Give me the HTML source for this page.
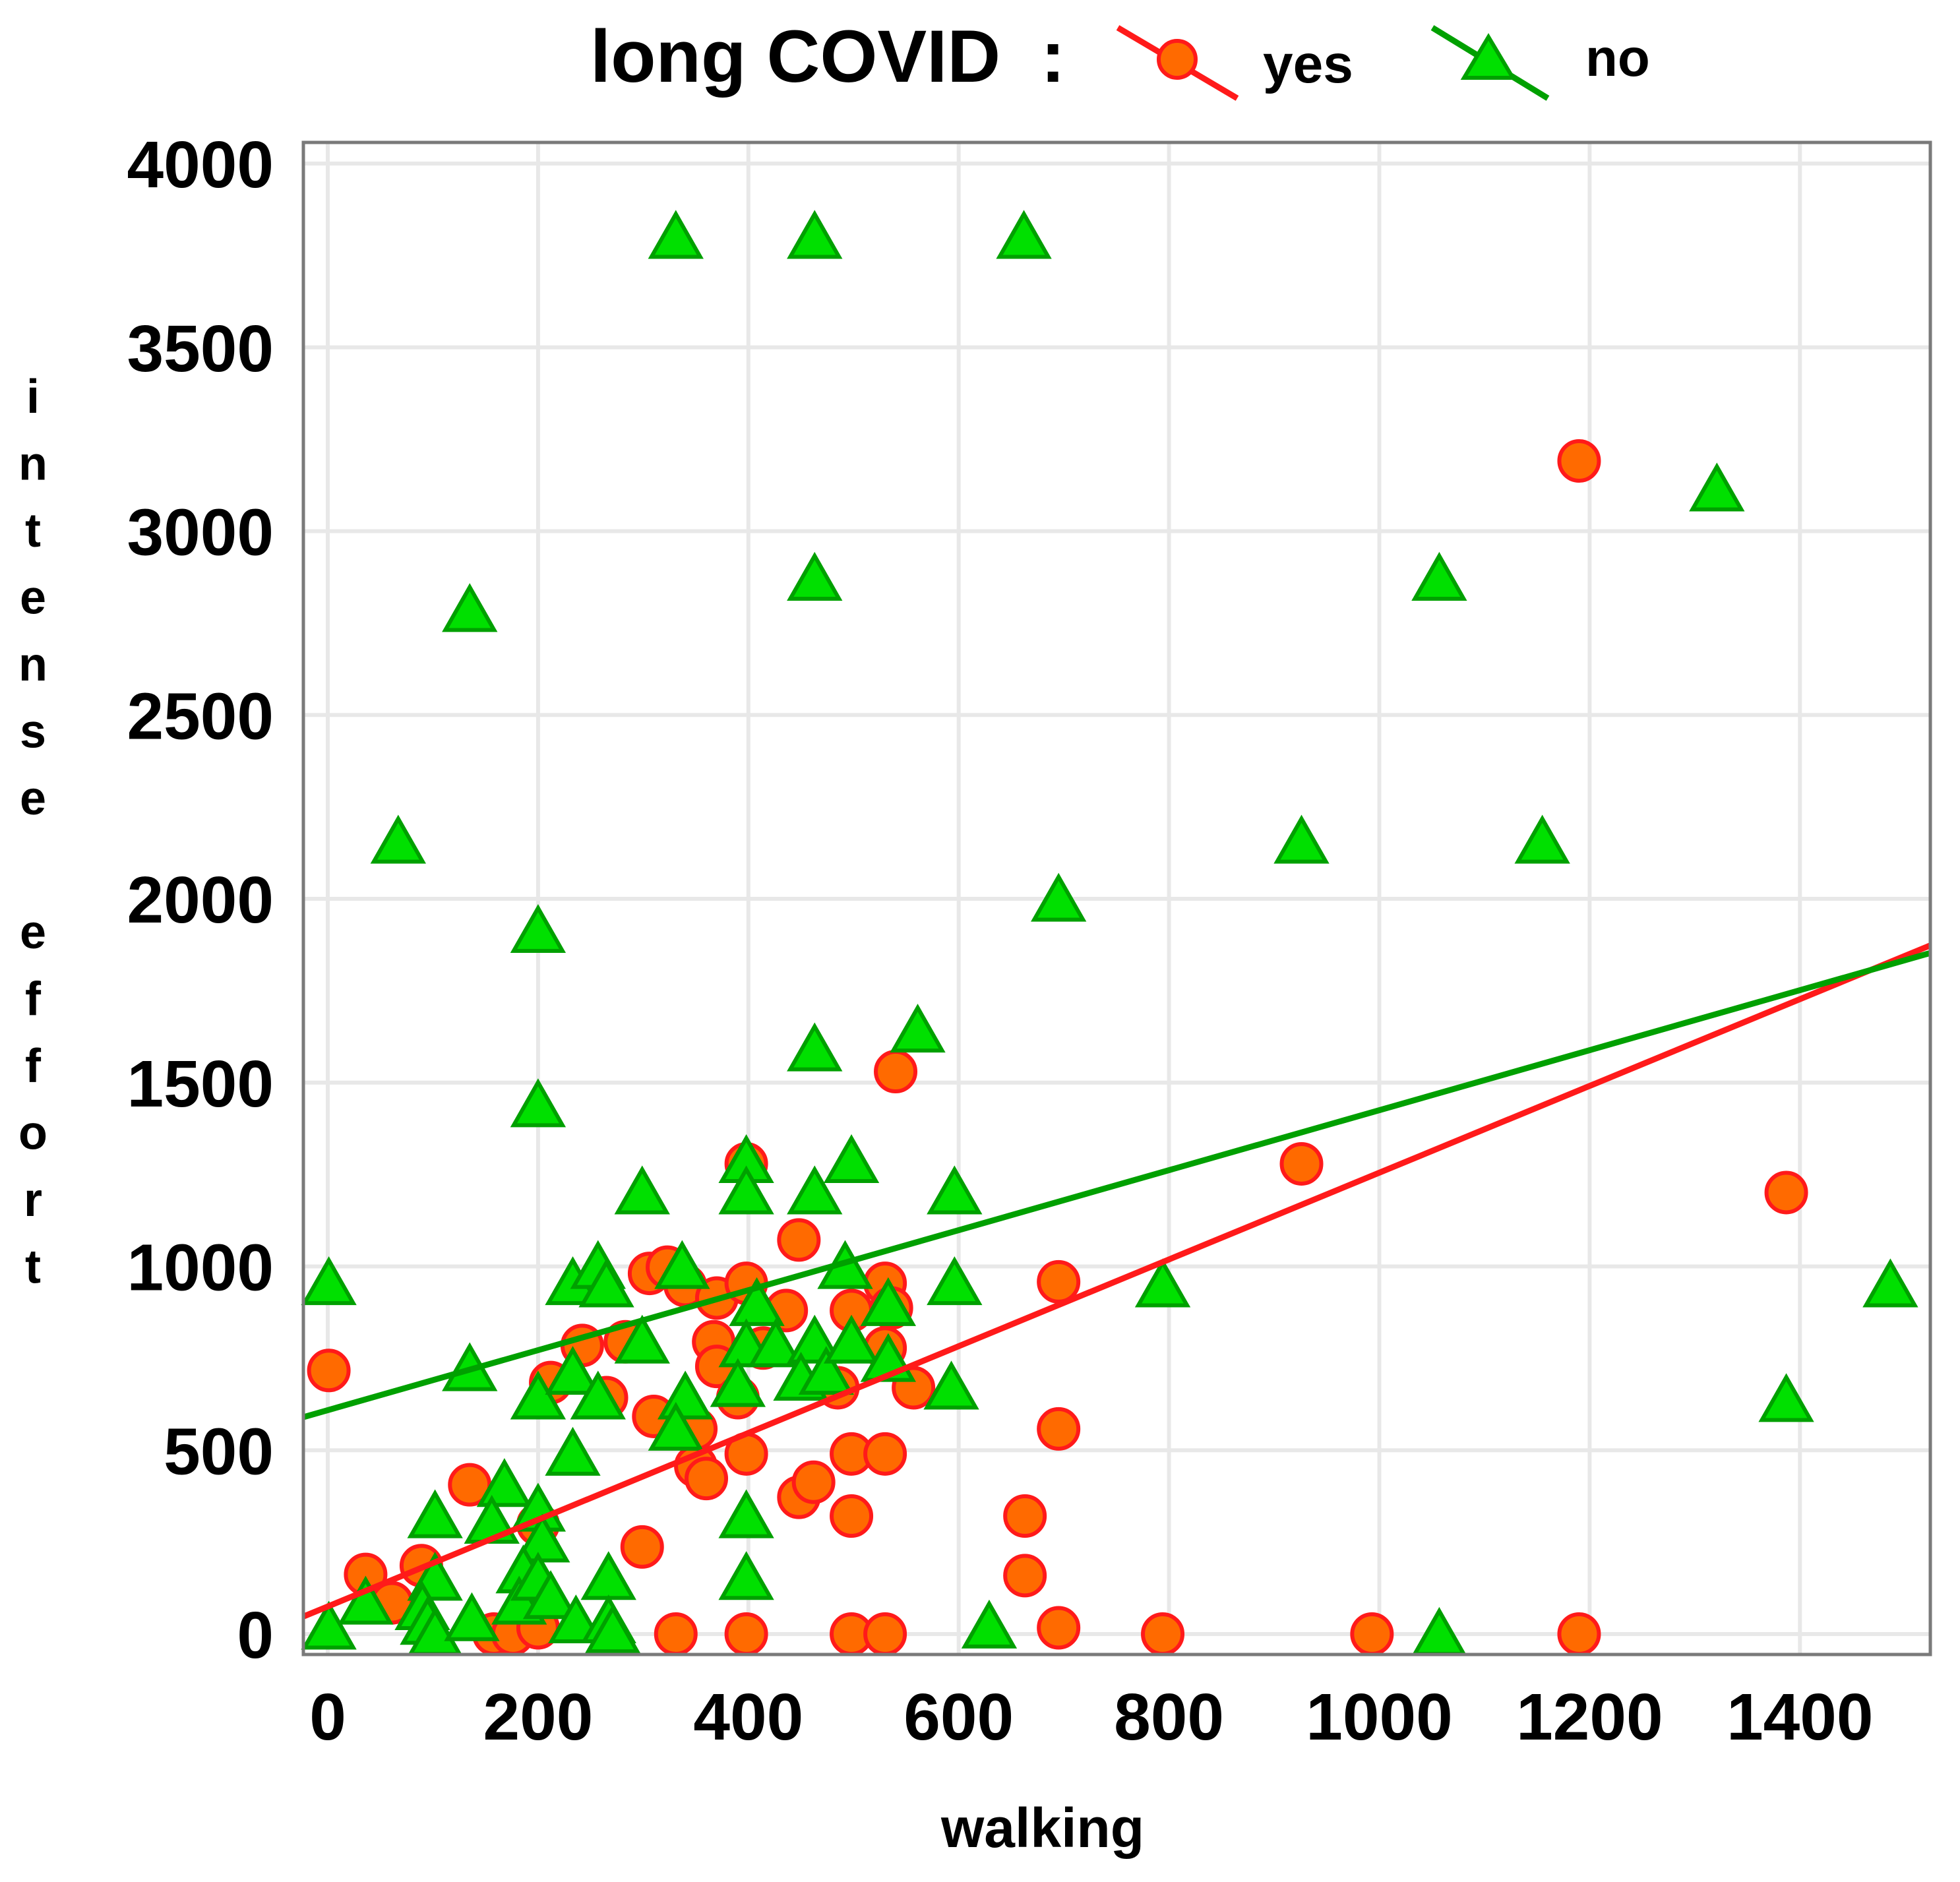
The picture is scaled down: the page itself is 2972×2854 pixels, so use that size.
<!DOCTYPE html>
<html><head><meta charset="utf-8"><style>html,body{margin:0;padding:0;background:#fff}svg{display:block}</style></head>
<body>
<svg id="chart" width="2972" height="2854" viewBox="0 0 2972 2854" xmlns="http://www.w3.org/2000/svg" font-family="'Liberation Sans', Arial, sans-serif" font-weight="bold">
<g id="grid"></g>
<g id="marks"></g>
<g id="axes"></g>
<g>
<text x="895" y="124" font-size="112">long COVID</text>
<text x="1578" y="124" font-size="112">:</text>
<g>
<line x1="1695" y1="42" x2="1876" y2="149" stroke="#ff1a1a" stroke-width="9"/>
<circle cx="1785" cy="90" r="28" fill="#ff6a00" stroke="#ff1a1a" stroke-width="6"/>
<text x="1915" y="125" font-size="82">yes</text>
</g>
<g>
<line x1="2172" y1="42" x2="2347" y2="149" stroke="#00a000" stroke-width="9"/>
<polygon points="2257,56 2294,118 2220,118" fill="#00e000" stroke="#00a000" stroke-width="6"/>
<text x="2404" y="115" font-size="80">no</text>
</g>
</g>
<text x="1581" y="2801" font-size="84" text-anchor="middle">walking</text>
<g id="ytitle" font-size="72" text-anchor="middle"></g>
</svg>
<script>
const xTicks = [0,200,400,600,800,1000,1200,1400];
const yTicks = [0,500,1000,1500,2000,2500,3000,3500,4000];
const yesX = [1190,926,1387,695,695,663,663,695,794,993,1190,540,398,448,1,36,61,89,135,158,176,200,200,299,331,398,498,530,498,498,530,448,462,398,350,360,350,310,306,323,340,370,367,370,398,390,436,414,485,498,530,536,530,557,242,212,265,283,200];
const yesY = [3191,1279,1201,958,558,321,159,17,0,0,0,1530,1279,1072,717,162,85,186,406,0,0,17,100,237,0,0,0,0,321,490,490,372,413,490,457,423,558,592,981,998,948,914,795,728,954,643,880,778,670,880,954,887,778,670,785,684,643,795,298];
const noX = [331,463,662,463,135,1321,1057,67,926,1155,695,200,200,463,561,1486,1387,794,629,1057,1,1,36,135,102,102,90,95,102,137,168,156,200,204,200,186,182,200,212,236,233,233,233,257,265,257,267,267,271,299,299,337,340,331,398,398,408,398,390,426,398,398,463,498,492,463,450,474,498,533,533,596,596,593];
const noY = [3800,3800,3800,2870,2785,3113,2870,2155,2155,2155,1997,1912,1438,1590,1641,948,636,948,20,0,954,17,85,720,320,150,70,30,0,40,405,305,338,254,643,170,85,150,100,34,490,710,954,998,948,643,152,34,7,1201,795,998,643,558,1286,1201,897,785,677,785,320,152,1201,1286,998,795,694,710,795,897,745,1201,954,670];
const fitIntercept = [75, 609];
const fitSlope = [1.18, 0.816];
const yLetters = ["i","n","t","e","n","s","e","","e","f","f","o","r","t"];

const NS = "http://www.w3.org/2000/svg";
const L = 460, T = 216, R = 2927, B = 2509;
const xs = v => 497 + v * 1.5945;
const ys = v => 2478 - v * 0.5575;
function mk(tag, attrs, parent){ const e = document.createElementNS(NS, tag); for (const k in attrs) e.setAttribute(k, attrs[k]); parent.appendChild(e); return e; }
const grid = document.getElementById('grid'), marks = document.getElementById('marks'), axes = document.getElementById('axes');

xTicks.forEach(t => {
  const g = mk('line', {x1: xs(t), x2: xs(t), y1: T, y2: B, stroke: '#e8e8e8', 'stroke-width': 6}, grid);
  
  
  const lab = mk('text', {x: xs(t), y: 2638, 'font-size': 100, 'text-anchor': 'middle'}, axes);
  lab.textContent = t;
  
  
});
yTicks.forEach(t => {
  const g = mk('line', {x1: L, x2: R, y1: ys(t), y2: ys(t), stroke: '#e8e8e8', 'stroke-width': 6}, grid);
  
  
  const lab = mk('text', {x: 415, y: ys(t) + 36, 'font-size': 100, 'text-anchor': 'end'}, axes);
  lab.textContent = t;
  
  
});
const frame = mk('rect', {x: L, y: T, width: R - L, height: B - T, fill: 'none', stroke: '#7a7a7a', 'stroke-width': 5}, axes);



yesX.forEach((x, i) => {
  const c = mk('circle', {cx: xs(x), cy: ys(yesY[i]), r: 30, fill: '#ff6a00', stroke: '#ff1a1a', 'stroke-width': 6}, marks);
  
  
});
noX.forEach((x, i) => {
  const cx = xs(x), cy = ys(noY[i]);
  const p = mk('polygon', {points: `${cx},${cy-35} ${cx+37},${cy+30} ${cx-37},${cy+30}`, fill: '#00e000', stroke: '#00a000', 'stroke-width': 6}, marks);
  
  
});
const xmin = (L - 497) / 1.5945, xmax = (R - 497) / 1.5945;
const fitColors = ['#ff1a1a', '#00a000'];
const fitNames = ['fit-line-yes', 'fit-line-no'];
fitIntercept.forEach((b, i) => {
  const ln = mk('line', {x1: xs(xmin), y1: ys(b + fitSlope[i]*xmin), x2: xs(xmax), y2: ys(b + fitSlope[i]*xmax), stroke: fitColors[i], 'stroke-width': 9}, marks);
  
  
});
const yt = document.getElementById('ytitle');
yLetters.forEach((ch, k) => {
  if (!ch) return;
  const t = mk('text', {x: 50, y: 626 + k * 101.5}, yt);
  t.textContent = ch;
  
  
});
</script>
</body></html>
